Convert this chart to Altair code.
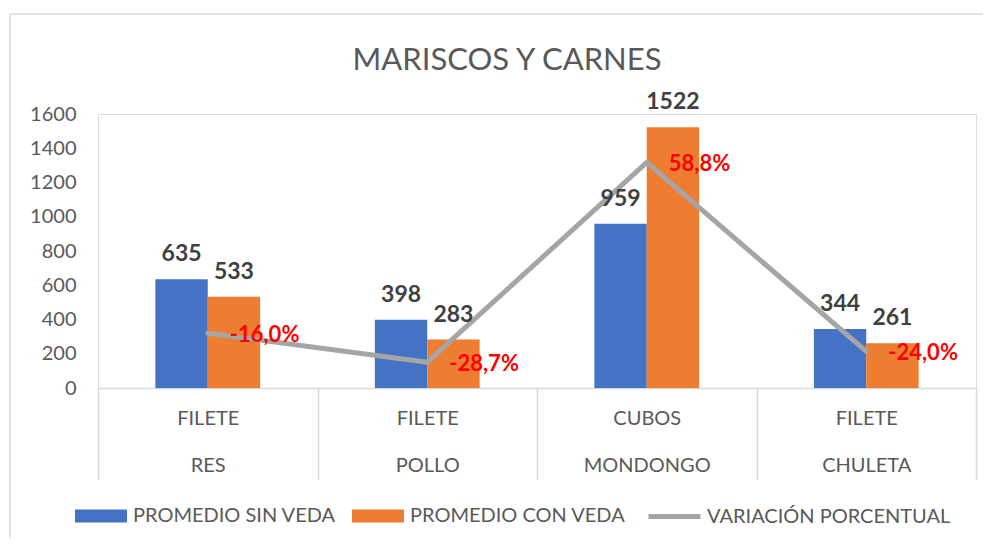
import altair as alt
import pandas as pd

# ---- data ----
tipos = ["FILETE", "FILETE", "CUBOS", "FILETE"]
productos = ["RES", "POLLO", "MONDONGO", "CHULETA"]
sin_veda = [635, 398, 959, 344]
con_veda = [533, 283, 1522, 261]
variacion = [-16.0, -28.7, 58.8, -24.0]
y_ticks = [0, 200, 400, 600, 800, 1000, 1200, 1400, 1600]
series = ["PROMEDIO SIN VEDA", "PROMEDIO CON VEDA"]
serie_linea = "VARIACIÓN PORCENTUAL"
colores = ["#4472C4", "#ED7D31"]
color_linea = "#A5A5A5"
titulo = "MARISCOS Y CARNES"
# hidden secondary axis of the line: -40% .. 80% spans the 0 .. 1600 axis
sec_min, sec_max = -0.4, 0.8
y_max = 1600

claves = [f"{t}|{p}" for t, p in zip(tipos, productos)]

bars_df = pd.DataFrame({
    "clave": claves * 2,
    "serie": [series[0]] * len(claves) + [series[1]] * len(claves),
    "valor": sin_veda + con_veda,
})
line_df = pd.DataFrame({
    "clave": claves,
    "serie": [serie_linea] * len(claves),
    "var": [v / 100 for v in variacion],
    "txt": [f"{v:.1f}%".replace(".", ",") for v in variacion],
})
frame_df = pd.DataFrame({"k": [0]})

FONT = "Lato"
GREY_TXT = "#595959"
GREY_LINE = "#D9D9D9"

x_enc = alt.X(
    "clave:N",
    sort=claves,
    scale=alt.Scale(paddingInner=0, paddingOuter=0),
    axis=alt.Axis(
        title=None,
        labelExpr="split(datum.label, '|')",
        labelAngle=0,
        tickBand="extent",
        tickSize=92,
        tickColor=GREY_LINE,
        tickWidth=1.5,
        domainColor=GREY_LINE,
        domainWidth=1.5,
        grid=False,
        labelPadding=-72,
        labelFontSize=20,
        labelFont=FONT,
        labelColor=GREY_TXT,
        labelLineHeight=47,
    ),
)
# empty slots on each side keep the pair of bars centred in the category
x_off = alt.XOffset("serie:N",
                    scale=alt.Scale(domain=["", series[0], series[1], " "],
                                    paddingInner=0, paddingOuter=0.095))

y_scale = alt.Scale(domain=[0, y_max], nice=False)
y_axis = alt.Axis(values=y_ticks, format="d", grid=False, domain=False,
                  ticks=False, labelFontSize=20, labelFont=FONT,
                  labelColor=GREY_TXT, labelPadding=22, title=None)

# chart frame (only top and left edges fall inside the picture)
frame_top = alt.Chart(frame_df).mark_rule(stroke=GREY_LINE, strokeWidth=1.5).encode(
    x=alt.value(-88), x2=alt.value(1200), y=alt.value(-100)
)
frame_left = alt.Chart(frame_df).mark_rule(stroke=GREY_LINE, strokeWidth=1.5).encode(
    x=alt.value(-88), y=alt.value(-100), y2=alt.value(1200)
)

bars = alt.Chart(bars_df).mark_bar().encode(
    x=x_enc,
    xOffset=x_off,
    y=alt.Y("valor:Q", scale=y_scale, axis=y_axis),
    fill=alt.Fill("serie:N", sort=series,
                  scale=alt.Scale(domain=series, range=colores),
                  legend=alt.Legend(title=None, orient="none", legendX=-23, legendY=376,
                                    direction="horizontal",
                                    symbolType="M-1,-0.25H1V0.25H-1Z",
                                    symbolSize=2704, symbolStrokeWidth=0,
                                    labelFontSize=20, labelFont=FONT,
                                    labelColor=GREY_TXT, labelOffset=6,
                                    columnPadding=16, labelLimit=0)),
)

line_base = alt.Chart(line_df).transform_calculate(
    sec=f"(datum.var - ({sec_min})) / ({sec_max} - ({sec_min})) * {y_max}"
)

line = line_base.mark_line(strokeWidth=5, strokeCap="round",
                           strokeJoin="round").encode(
    x=x_enc,
    y=alt.Y("sec:Q", scale=y_scale, axis=y_axis),
    stroke=alt.Stroke("serie:N", scale=alt.Scale(domain=[serie_linea], range=[color_linea]),
                      legend=alt.Legend(title=None, orient="none", legendX=548, legendY=374,
                                        symbolType="stroke", symbolSize=2704,
                                        symbolStrokeWidth=5,
                                        labelFontSize=20, labelFont=FONT,
                                        labelColor=GREY_TXT, labelOffset=4,
                                        labelLimit=0)),
)

bar_labels = alt.Chart(bars_df).mark_text(
    baseline="alphabetic", dy=-18, fontSize=23, fontWeight="bold",
    font=FONT, color="#404040"
).encode(
    x=x_enc,
    xOffset=x_off,
    y=alt.Y("valor:Q", scale=y_scale, axis=y_axis),
    text=alt.Text("valor:Q"),
)

pct_labels = line_base.mark_text(
    align="left", baseline="alphabetic", dx=22, dy=9, fontSize=22,
    fontWeight="bold", font=FONT, color="#FF0000"
).encode(
    x=x_enc,
    y=alt.Y("sec:Q", scale=y_scale, axis=y_axis),
    text="txt:N",
)

chart = alt.layer(frame_top, frame_left, bars, line, bar_labels, pct_labels).properties(
    width=878,
    height=274,
    autosize=alt.AutoSizeParams(type="none"),
    padding={"left": 90, "top": 106, "right": 7, "bottom": 150},
    title=alt.TitleParams(titulo, fontSize=31, font=FONT, fontWeight="normal",
                          color=GREY_TXT, anchor="middle", frame="group",
                          dx=-30, offset=-64),
).configure_view(
    stroke="transparent", strokeWidth=0
).configure_axisY(
    domain=False, grid=False, ticks=False
).configure_axisX(
    grid=False
).configure(font=FONT)

chart.save("out.html", embed_options={"renderer": "svg", "actions": False})
